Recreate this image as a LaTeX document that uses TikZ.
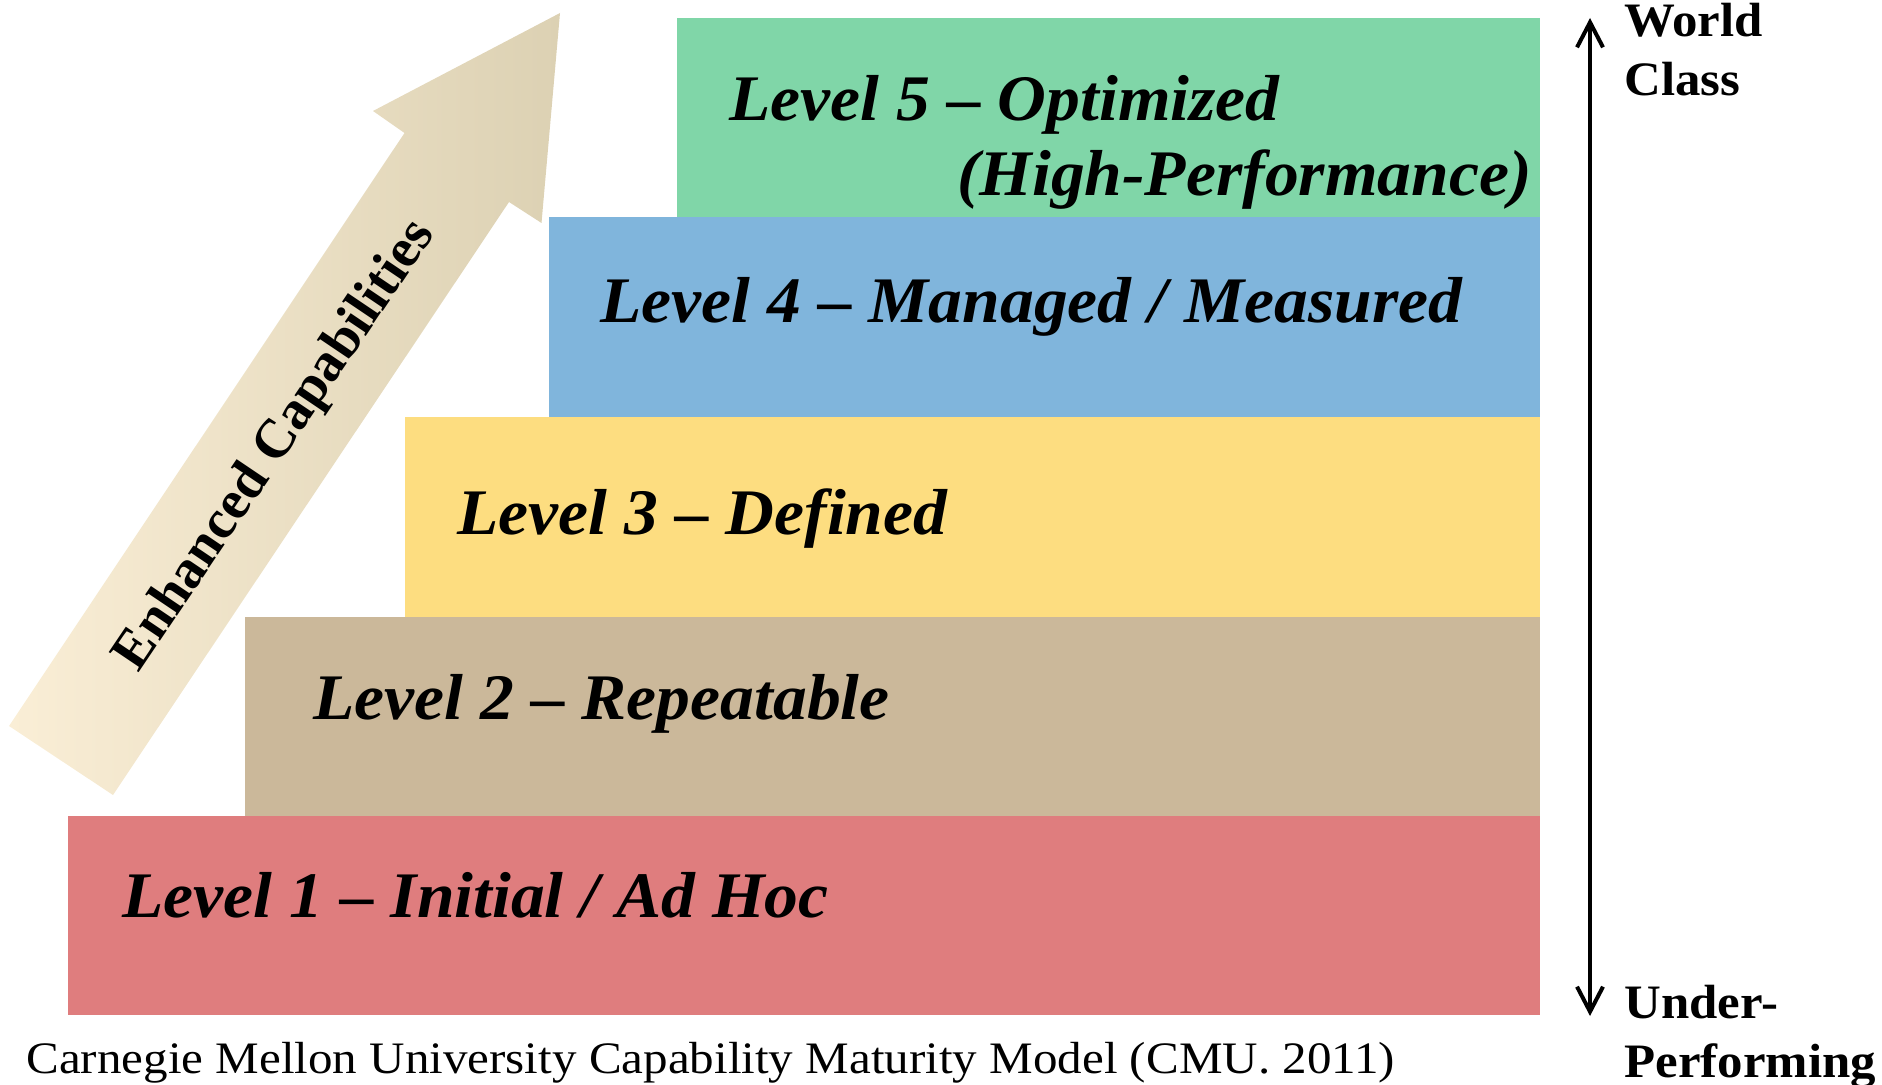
\documentclass[tikz,border=0pt]{standalone}
\usepackage{fontspec}
\setmainfont{Liberation Serif}
\newfontfamily\lvlfont[FakeStretch=1.04]{Liberation Serif}
\newfontfamily\sidefont[FakeStretch=1.06]{Liberation Serif}
\newfontfamily\notefont[FakeStretch=1.09]{Liberation Serif}
\usetikzlibrary{arrows.meta}

\definecolor{lvlfive}{HTML}{80D6A8}
\definecolor{lvlfour}{HTML}{80B5DC}
\definecolor{lvlthree}{HTML}{FDDD80}
\definecolor{lvltwo}{HTML}{CBB89A}
\definecolor{lvlone}{HTML}{DF7D7E}
\definecolor{arrowlight}{HTML}{FAEED6}
\definecolor{arrowdark}{HTML}{DCD1B3}

\begin{document}
\begin{tikzpicture}[x=0.5pt, y=-0.5pt,
  stepbar/.style={fill=#1, draw=none},
  lvltext/.style={anchor=base west, inner sep=0pt,
    font=\lvlfont\fontsize{32.5pt}{39pt}\selectfont\bfseries\itshape},
  sidelabel/.style={anchor=base west, inner sep=0pt, align=left,
    font=\sidefont\fontsize{24pt}{29.5pt}\selectfont\bfseries},
  scalearrow/.style={line width=2pt,
    {Straight Barb[length=12.5pt,width=13pt]}-{Straight Barb[length=12.5pt,width=13pt]}}
]
\useasboundingbox (0,0) rectangle (1882,1085);

% staircase of maturity levels
\fill[stepbar=lvlfive]  (677,18)  rectangle (1540,217);
\fill[stepbar=lvlfour]  (549,217) rectangle (1540,417);
\fill[stepbar=lvlthree] (405,417) rectangle (1540,617);
\fill[stepbar=lvltwo]   (245,617) rectangle (1540,816);
\fill[stepbar=lvlone]   (68,816)  rectangle (1540,1015);

\node[lvltext] (l5) at (729,121) {Level 5 – Optimized};
\node[lvltext, anchor=base east] (l5b) at (1532,196) {(High-Performance)};
\node[lvltext] (l4) at (600,322) {Level 4 – Managed / Measured};
\node[lvltext] (l3) at (457,534) {Level 3 – Defined};
\node[lvltext] (l2) at (313,719) {Level 2 – Repeatable};
\node[lvltext] (l1) at (122,917) {Level 1 – Initial / Ad Hoc};

% rising block arrow
\shade[left color=arrowlight, right color=arrowdark]
  (9,726) -- (113,795) -- (509,202) -- (541.5,223) -- (560,13)
  -- (373,111) -- (404.5,133) -- cycle;
\node[rotate=56, inner sep=0pt, font=\fontsize{27.5pt}{33pt}\selectfont\bfseries]
  (enh) at (276,446) {Enhanced Capabilities};

% performance scale on the right
\coordinate (scaletop) at (1590,18);
\coordinate (scalebot) at (1590,1016);
\draw[scalearrow] (scalebot) -- (scaletop);
\node[sidelabel] (top) at (1624,96) {World\\Class};
\node[sidelabel] (bot) at (1624,1077) {Under-\\Performing};

% source note
\node[anchor=base west, inner sep=0pt, font=\notefont\fontsize{22.5pt}{27pt}\selectfont]
  (src) at (26,1073) {Carnegie Mellon University Capability Maturity Model (CMU. 2011)};
\end{tikzpicture}
\end{document}
